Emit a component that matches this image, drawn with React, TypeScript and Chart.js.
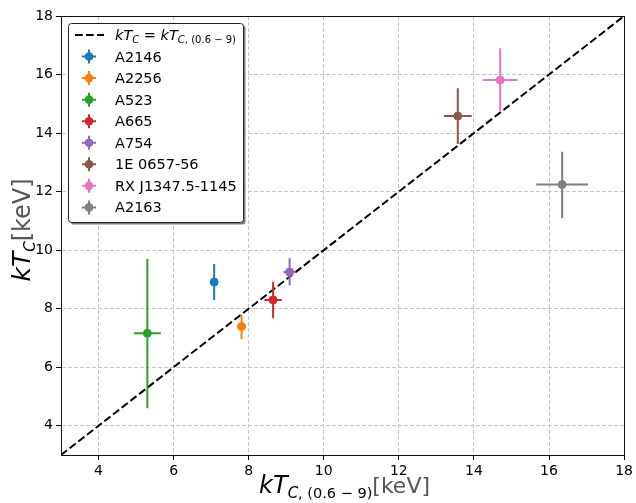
import React, { useEffect, useRef } from 'react';
import { Chart, registerables } from 'chart.js';

Chart.register(...registerables);

// ---------------- data ----------------
const clusterNames = ['A2146', 'A2256', 'A523', 'A665', 'A754', '1E 0657-56', 'RX J1347.5-1145', 'A2163'];
const clusterColors = ['#1f77b4', '#ff7f0e', '#2ca02c', '#d62728', '#9467bd', '#8c564b', '#e377c2', '#7f7f7f'];
const kTBand = [7.08, 7.81, 5.30, 8.65, 9.09, 13.57, 14.70, 16.35];
const kTBandErr = [0.10, 0.12, 0.36, 0.23, 0.16, 0.37, 0.46, 0.69];
const kTCore = [8.91, 7.39, 7.16, 8.30, 9.25, 14.58, 15.81, 12.24];
const kTCoreErrLow = [0.61, 0.43, 2.56, 0.63, 0.46, 0.95, 1.06, 1.15];
const kTCoreErrHigh = [0.62, 0.40, 2.54, 0.62, 0.47, 0.95, 1.09, 1.12];
const oneToOne = [3, 18];
const xTickValues = [4, 6, 8, 10, 12, 14, 16, 18];
const yTickValues = [4, 6, 8, 10, 12, 14, 16, 18];
const axisMin = 3;
const axisMax = 18;

const FONT = '"DejaVu Sans", sans-serif';

type Run = { t: string; size: number; italic?: boolean; dy?: number; color?: string };

function setFont(ctx: CanvasRenderingContext2D, r: Run) {
  ctx.font = `${r.italic ? 'italic ' : ''}${r.size}px ${FONT}`;
}
function runsWidth(ctx: CanvasRenderingContext2D, runs: Run[]) {
  let w = 0;
  for (const r of runs) {
    setFont(ctx, r);
    w += ctx.measureText(r.t).width;
  }
  return w;
}
function drawRuns(ctx: CanvasRenderingContext2D, x: number, y: number, runs: Run[], color = '#000') {
  ctx.textBaseline = 'alphabetic';
  ctx.textAlign = 'left';
  let cx = x;
  for (const r of runs) {
    setFont(ctx, r);
    ctx.fillStyle = r.color || color;
    ctx.fillText(r.t, cx, y + (r.dy || 0));
    cx += ctx.measureText(r.t).width;
  }
  return cx - x;
}

const errorBarPlugin = {
  id: 'errorBars',
  beforeDatasetDraw(chart: any, args: any) {
    const ds = chart.data.datasets[args.index];
    if (!ds.errors) return;
    const { ctx } = chart;
    const xs = chart.scales.x;
    const ys = chart.scales.y;
    ctx.save();
    ctx.strokeStyle = ds.borderColor;
    ctx.lineWidth = 2;
    ds.data.forEach((p: any, i: number) => {
      const e = ds.errors[i];
      const px = xs.getPixelForValue(p.x);
      const py = ys.getPixelForValue(p.y);
      ctx.beginPath();
      ctx.moveTo(xs.getPixelForValue(p.x - e.xErr), py);
      ctx.lineTo(xs.getPixelForValue(p.x + e.xErr), py);
      ctx.moveTo(px, ys.getPixelForValue(p.y - e.yLo));
      ctx.lineTo(px, ys.getPixelForValue(p.y + e.yHi));
      ctx.stroke();
    });
    ctx.restore();
  },
};

const decorPlugin = {
  id: 'decor',
  afterDraw(chart: any) {
    const { ctx, chartArea: a } = chart;
    ctx.save();
    // frame
    ctx.strokeStyle = '#111';
    ctx.lineWidth = 1;
    ctx.setLineDash([]);
    ctx.strokeRect(Math.round(a.left) + 0.5, Math.round(a.top) + 0.5, Math.round(a.right - a.left), Math.round(a.bottom - a.top));

    // axis titles
    const xRuns: Run[] = [
      { t: 'kT', size: 24, italic: true },
      { t: 'C', size: 15, italic: true, dy: 5 },
      { t: ', (0.6 \u2212 9)', size: 14.5, dy: 5 },
      { t: '[keV]', size: 22, color: '#555' },
    ];
    const xw = runsWidth(ctx, xRuns);
    drawRuns(ctx, (a.left + a.right) / 2 - xw / 2 + 2, 493, xRuns);

    const yRuns: Run[] = [
      { t: 'kT', size: 25, italic: true },
      { t: 'C', size: 15, italic: true, dy: 5 },
      { t: '[keV]', size: 24, color: '#555' },
    ];
    const yw = runsWidth(ctx, yRuns);
    ctx.save();
    ctx.translate(30, 230);
    ctx.rotate(-Math.PI / 2);
    drawRuns(ctx, -yw / 2, 0, yRuns);
    ctx.restore();

    // legend
    const lx = 68, ly = 23, lw = 175, lh = 199;
    const rr = (x: number, y: number, w: number, h: number, r: number) => {
      ctx.beginPath();
      ctx.moveTo(x + r, y);
      ctx.lineTo(x + w - r, y);
      ctx.arcTo(x + w, y, x + w, y + r, r);
      ctx.lineTo(x + w, y + h - r);
      ctx.arcTo(x + w, y + h, x + w - r, y + h, r);
      ctx.lineTo(x + r, y + h);
      ctx.arcTo(x, y + h, x, y + h - r, r);
      ctx.lineTo(x, y + r);
      ctx.arcTo(x, y, x + r, y, r);
      ctx.closePath();
    };
    rr(lx + 2.5, ly + 2.5, lw, lh, 3);
    ctx.fillStyle = '#808080';
    ctx.fill();
    rr(lx + 0.5, ly + 0.5, lw, lh, 3);
    ctx.fillStyle = '#fff';
    ctx.fill();
    ctx.strokeStyle = '#222';
    ctx.lineWidth = 1;
    ctx.stroke();

    const rowY = (i: number) => 35 + i * 21.55;
    const hx = 89;
    const tx = 115;
    // first entry: dashed line
    ctx.save();
    ctx.strokeStyle = '#000';
    ctx.lineWidth = 2;
    ctx.setLineDash([7.7, 3.3]);
    ctx.beginPath();
    ctx.moveTo(75, rowY(0));
    ctx.lineTo(104, rowY(0));
    ctx.stroke();
    ctx.restore();
    drawRuns(ctx, tx, rowY(0) + 5, [
      { t: 'kT', size: 14.5, italic: true },
      { t: 'C', size: 10, italic: true, dy: 3 },
      { t: ' = ', size: 14.5 },
      { t: 'kT', size: 14.5, italic: true },
      { t: 'C', size: 10, italic: true, dy: 3 },
      { t: ', (0.6 \u2212 9)', size: 10, dy: 3 },
    ]);

    clusterNames.forEach((name, i) => {
      const y = rowY(i + 1);
      const c = clusterColors[i];
      ctx.strokeStyle = c;
      ctx.lineWidth = 2;
      ctx.beginPath();
      ctx.moveTo(hx - 7, y);
      ctx.lineTo(hx + 7, y);
      ctx.moveTo(hx, y - 7);
      ctx.lineTo(hx, y + 7);
      ctx.stroke();
      ctx.fillStyle = c;
      ctx.beginPath();
      ctx.arc(hx, y, 4.3, 0, Math.PI * 2);
      ctx.fill();
      drawRuns(ctx, tx, y + 5, [{ t: name, size: 14.5 }]);
    });
    ctx.restore();
  },
};

export default function App() {
  const ref = useRef<HTMLCanvasElement | null>(null);
  useEffect(() => {
    document.body.style.margin = '0';
    const canvas = ref.current;
    if (!canvas) return;
    Chart.defaults.font.family = FONT;

    const datasets: any[] = [
      {
        type: 'line',
        label: 'kT_C = kT_C,(0.6-9)',
        data: oneToOne.map((v) => ({ x: v, y: v })),
        borderColor: '#000',
        borderWidth: 2,
        borderDash: [7.7, 3.3],
        pointRadius: 0,
        fill: false,
        order: 10,
      },
      ...clusterNames.map((name, i) => ({
        type: 'scatter',
        label: name,
        data: [{ x: kTBand[i], y: kTCore[i] }],
        errors: [{ xErr: kTBandErr[i], yLo: kTCoreErrLow[i], yHi: kTCoreErrHigh[i] }],
        backgroundColor: clusterColors[i],
        borderColor: clusterColors[i],
        pointRadius: 4,
        borderWidth: 1,
        order: 0,
      })),
    ];

    const gridOpts = { color: '#c6c6c6', lineWidth: 1, tickLength: 5, tickColor: '#000', tickWidth: 1 };
    const borderOpts = { display: true, color: '#111', width: 1, dash: [4, 2] };

    const chart = new Chart(canvas, {
      type: 'scatter',
      data: { datasets },
      options: {
        responsive: false,
        animation: false,
        layout: { padding: { top: 16, right: 10, left: 0, bottom: 0 } },
        plugins: { legend: { display: false }, tooltip: { enabled: false } },
        scales: {
          x: {
            type: 'linear',
            min: axisMin,
            max: axisMax,
            afterBuildTicks: (s: any) => {
              s.ticks = xTickValues.map((v) => ({ value: v }));
            },
            afterFit: (s: any) => {
              s.height = 48;
            },
            grid: gridOpts,
            border: borderOpts,
            ticks: { color: '#000', font: { size: 14, family: FONT }, padding: 3, maxRotation: 0 },
          },
          y: {
            type: 'linear',
            min: axisMin,
            max: axisMax,
            afterBuildTicks: (s: any) => {
              s.ticks = yTickValues.map((v) => ({ value: v }));
            },
            afterFit: (s: any) => {
              s.width = 61;
            },
            grid: gridOpts,
            border: borderOpts,
            ticks: { color: '#000', font: { size: 14, family: FONT }, padding: 3 },
          },
        },
      },
      plugins: [errorBarPlugin, decorPlugin],
    } as any);
    return () => chart.destroy();
  }, []);
  return (
    <div style={{ width: 636, height: 503 }}>
      <canvas ref={ref} width={636} height={503} style={{ display: 'block' }} />
    </div>
  );
}
